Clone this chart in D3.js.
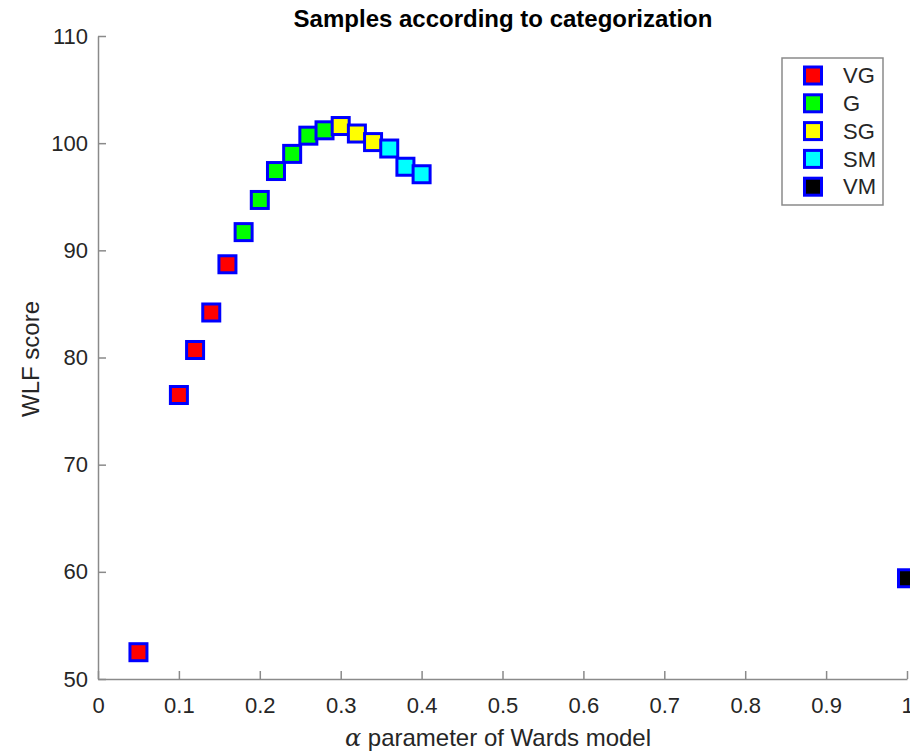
<!DOCTYPE html>
<meta charset="utf-8">
<style>
body { margin: 0; background: #fff; }
text { font-family: "Liberation Sans", Arial, Helvetica, sans-serif; }
.axis path, .axis line { stroke: #8a8a8a; stroke-width: 1.5px; }
.axis text { fill: #262626; font-size: 22px; }
</style>
<svg width="910" height="753"></svg>
<script src="https://d3js.org/d3.v7.min.js"></script>
<script>

var alphaVals = [0.05, 0.10, 0.12, 0.14, 0.16, 0.18, 0.20, 0.22, 0.24, 0.26, 0.28, 0.30, 0.32, 0.34, 0.36, 0.38, 0.40, 1.00];
var wlfScores = [52.5, 76.5, 80.7, 84.2, 88.7, 91.7, 94.7, 97.4, 99.0, 100.7, 101.2, 101.6, 100.9, 100.1, 99.5, 97.8, 97.1, 59.4];
var categoryOf = ["VG", "VG", "VG", "VG", "VG", "G", "G", "G", "G", "G", "G", "SG", "SG", "SG", "SM", "SM", "SM", "VM"];
var categories = ["VG", "G", "SG", "SM", "VM"];
var catColors = ["#ff0000", "#00ff00", "#ffff00", "#00ffff", "#000000"];
var xTicks = [0, 0.1, 0.2, 0.3, 0.4, 0.5, 0.6, 0.7, 0.8, 0.9, 1];
var yTicks = [50, 60, 70, 80, 90, 100, 110];

var svg = d3.select("svg"),
    plotL = 98, plotR = 907, plotT = 36, plotB = 679;

var x = d3.scaleLinear().domain([0, 1]).range([plotL, plotR]);
var y = d3.scaleLinear().domain([50, 110]).range([plotB, plotT]);
var color = d3.scaleOrdinal().domain(categories).range(catColors);

svg.append("g")
    .attr("class", "axis")
    .attr("transform", "translate(0," + plotB + ")")
    .call(d3.axisBottom(x).tickValues(xTicks).tickFormat(d3.format("")).tickSizeInner(-8).tickSizeOuter(0))
    .call(function(g) { g.selectAll("text").attr("y", 34).attr("dy", 0); });

svg.append("g")
    .attr("class", "axis")
    .attr("transform", "translate(" + plotL + ",0)")
    .call(d3.axisLeft(y).tickValues(yTicks).tickSizeInner(-8).tickSizeOuter(0).tickPadding(10));

svg.selectAll(".axis text").attr("font-family", null);

// points
var pts = alphaVals.map(function(a, i) { return { a: a, s: wlfScores[i], c: categoryOf[i] }; });
var sz = 17;
svg.append("g").selectAll("rect")
  .data(pts)
  .enter().append("rect")
    .attr("x", function(d) { return x(d.a) - sz / 2; })
    .attr("y", function(d) { return y(d.s) - sz / 2; })
    .attr("width", sz)
    .attr("height", sz)
    .style("fill", function(d) { return color(d.c); })
    .style("stroke", "#0000ff")
    .style("stroke-width", 3);

// title and labels
svg.append("text")
    .attr("x", 503)
    .attr("y", 27)
    .attr("text-anchor", "middle")
    .style("font-weight", "bold")
    .style("font-size", "24px")
    .style("fill", "#000")
    .text("Samples according to categorization");

var xl = svg.append("text")
    .attr("x", 498)
    .attr("y", 746)
    .attr("text-anchor", "middle")
    .style("font-size", "24px")
    .style("fill", "#262626");
xl.append("tspan").style("font-style", "italic").style("font-family", "'DejaVu Serif', serif").text("\u03b1");
xl.append("tspan").text(" parameter of Wards model");

svg.append("text")
    .attr("transform", "translate(39,359) rotate(-90)")
    .attr("text-anchor", "middle")
    .style("font-size", "24px")
    .style("fill", "#262626")
    .text("WLF score");

// legend
var lg = svg.append("g").attr("transform", "translate(782,58)");
lg.append("rect")
    .attr("width", 101)
    .attr("height", 147)
    .style("fill", "#fff")
    .style("stroke", "#8a8a8a")
    .style("stroke-width", 1.5);

var item = lg.selectAll(".item")
  .data(categories)
  .enter().append("g")
    .attr("transform", function(d, i) { return "translate(0," + (17.5 + i * 27.8) + ")"; });

item.append("rect")
    .attr("x", 31 - sz / 2)
    .attr("y", -sz / 2)
    .attr("width", sz)
    .attr("height", sz)
    .style("fill", function(d) { return color(d); })
    .style("stroke", "#0000ff")
    .style("stroke-width", 3);

item.append("text")
    .attr("x", 61)
    .attr("dy", "0.35em")
    .style("font-size", "22px")
    .style("fill", "#262626")
    .text(function(d) { return d; });

</script>
